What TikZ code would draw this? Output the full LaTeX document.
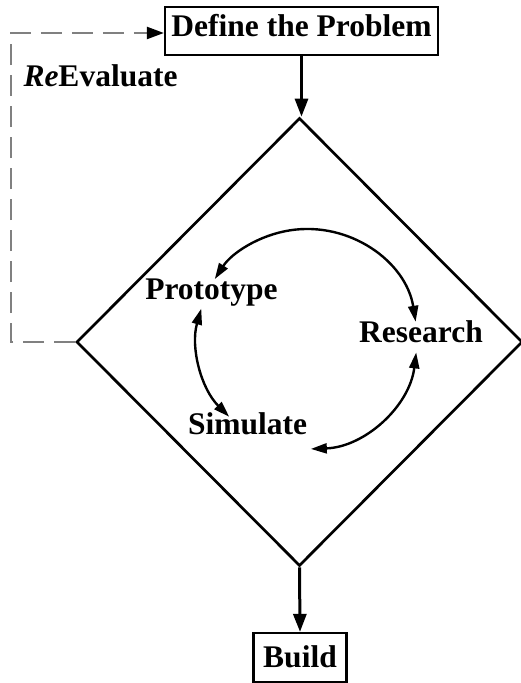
\documentclass[tikz,border=0pt]{standalone}
\usepackage{fontspec}
\setmainfont{Liberation Serif}
\usetikzlibrary{arrows.meta,shapes.geometric}
\begin{document}
\begin{tikzpicture}[x=1pt,y=1pt,
  lbl/.style={font=\fontsize{31.5}{36}\selectfont\bfseries, inner sep=0pt},
  boxnode/.style={draw, line width=2.2pt, lbl},
  mainarrow/.style={line width=3pt, -{Triangle[length=18pt,width=13pt]}},
  cyc/.style={line width=2.4pt, {Triangle[length=16pt,width=10pt]}-{Triangle[length=16pt,width=10pt]}},
  dashline/.style={draw=gray, line width=2.2pt, dash pattern=on 21pt off 10pt, -{Triangle[length=17pt,width=12pt,color=black]}}
]
\useasboundingbox (0,0) rectangle (521,683);
\node[boxnode, minimum width=273pt, text height=30pt, text depth=18pt] (def) at (301.5,652) {Define the Problem};
\node[boxnode, minimum width=93pt, text height=35pt, text depth=14pt] (build) at (300,25.5) {Build};
\node[draw, diamond, line width=2.7pt, minimum width=446pt, minimum height=448pt, inner sep=0pt] (dia) at (299.5,341) {};
\draw[mainarrow] (def.south) -- (def.south |- dia.north);
\draw[mainarrow] (dia.south) -- (build.north);
\coordinate (cl) at (11,341);
\coordinate (ct) at (11,650);
\draw[dashline] (dia.west) -- (cl) -- (ct) -- (ct -| def.west);
\node[lbl, anchor=base] (reev) at (100.5,596) {\textit{Re}Evaluate};
\node[lbl, anchor=base] (proto) at (211.5,383) {Prototype};
\node[lbl, anchor=base] (res) at (421,340) {Research};
\node[lbl, anchor=base] (sim) at (247.5,248) {Simulate};
\coordinate (cc) at (307,344);
\draw[cyc] ([shift={(9:110pt)}]cc) arc[start angle=9,end angle=147,radius=110pt];
\draw[cyc] ([shift={(164:110pt)}]cc) arc[start angle=164,end angle=225,radius=110pt];
\draw[cyc] ([shift={(272:110pt)}]cc) arc[start angle=272,end angle=353,radius=110pt];
\end{tikzpicture}
\end{document}
